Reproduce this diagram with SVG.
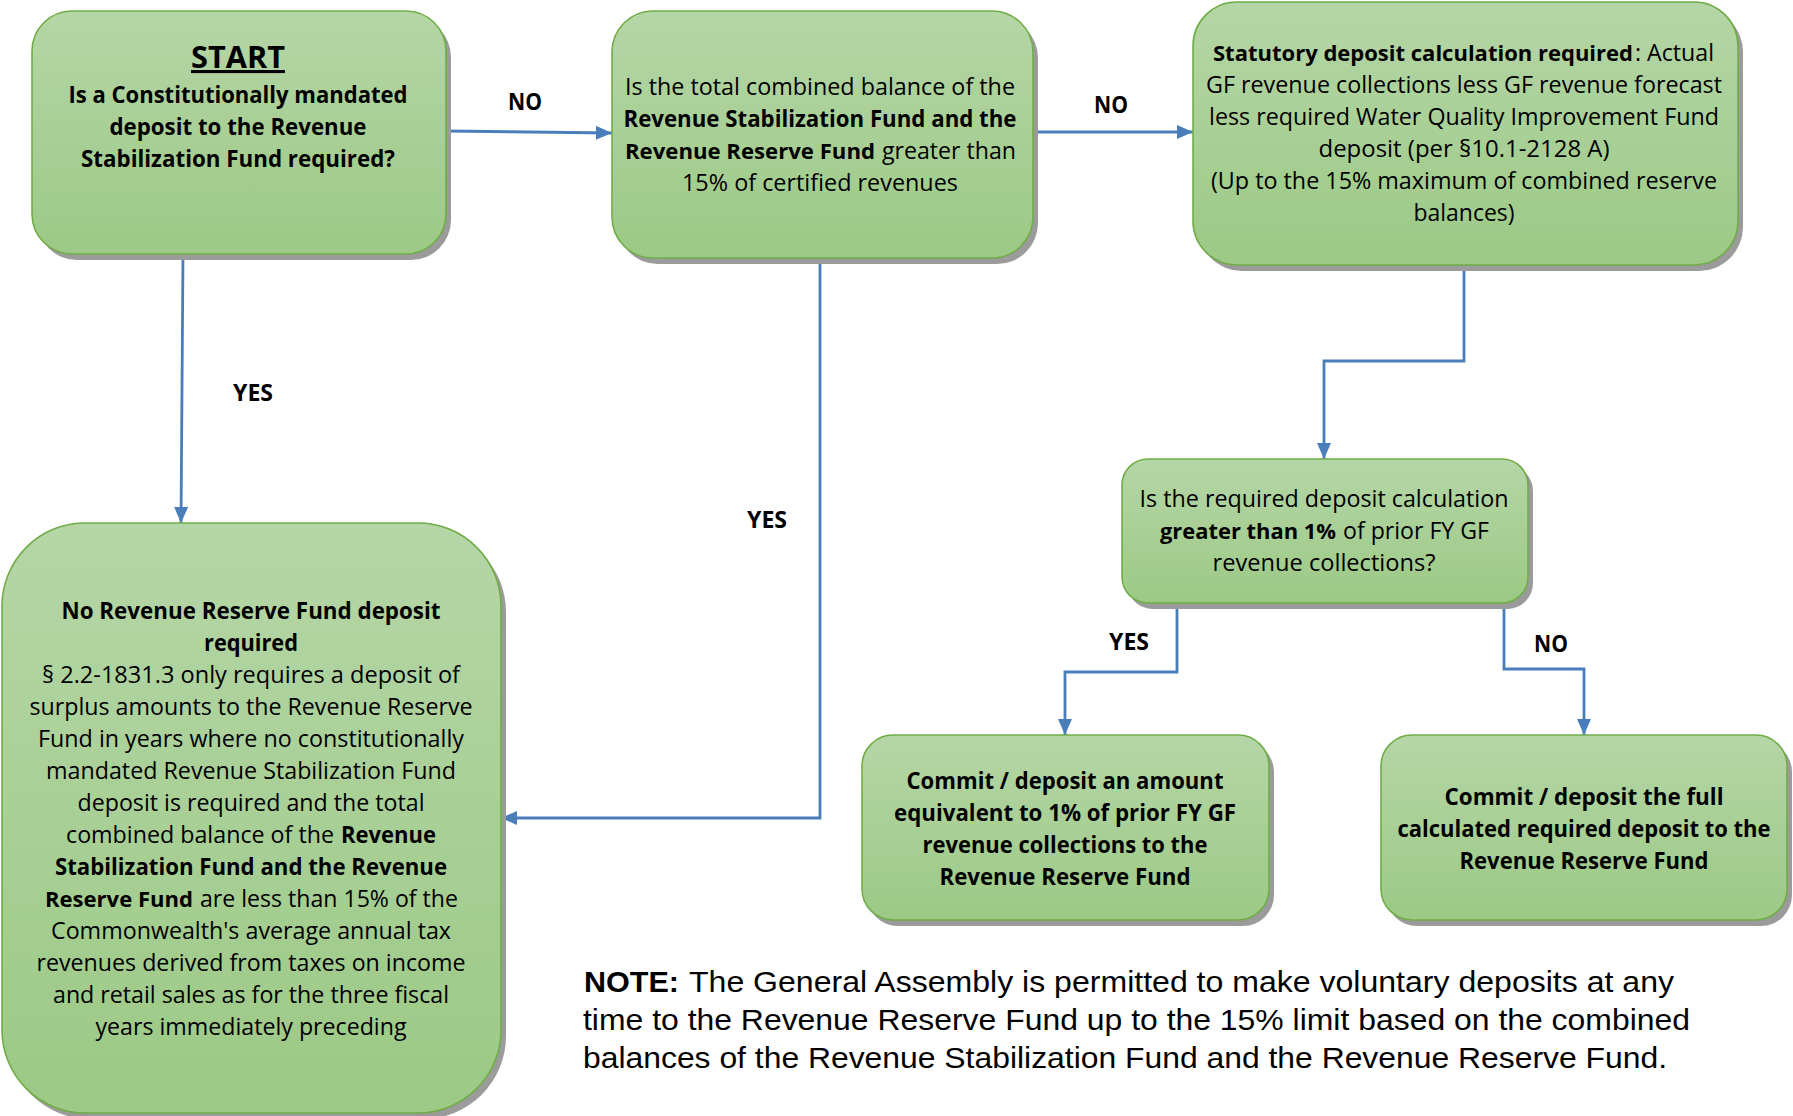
<svg xmlns="http://www.w3.org/2000/svg" width="1793" height="1116" viewBox="0 0 1793 1116">
<style>
.box{fill:url(#g);stroke:#70ad47;stroke-width:1.6}
.sh{fill:#9b9b9b}
.t{font-family:"Open Sans","Noto Sans","Liberation Sans",sans-serif;font-size:23px;fill:#000;text-anchor:middle}
.l{font-family:"Open Sans","Noto Sans","Liberation Sans",sans-serif;font-size:23px;fill:#000;text-anchor:start}
.b{font-weight:bold}
.lbl{font-family:"Open Sans","Noto Sans","Liberation Sans",sans-serif;font-size:24px;font-weight:bold;fill:#000;text-anchor:middle}
.con{fill:none;stroke:#4a7ebb;stroke-width:2.8}
.note{font-family:"Liberation Sans",Arial,sans-serif;font-size:30px;fill:#000}
</style>
<defs>
<linearGradient id="g" x1="0" y1="0" x2="0" y2="1">
<stop offset="0" stop-color="#b5d6a7"/>
<stop offset="1" stop-color="#9cc985"/>
</linearGradient>
<marker id="ah" markerUnits="userSpaceOnUse" markerWidth="16" markerHeight="14" viewBox="0 0 16 14" refX="16" refY="7" orient="auto">
<path d="M0,0 L16,7 L0,14 z" fill="#4a7ebb"/>
</marker>
</defs>
<rect width="1793" height="1116" fill="#fff"/>

<g id="connectors">
<path class="con" d="M446,131 L612,133" marker-end="url(#ah)"/>
<path class="con" d="M1033,132 L1193,132" marker-end="url(#ah)"/>
<path class="con" d="M183,254 L181,523" marker-end="url(#ah)"/>
<path class="con" d="M820,258 L820,818 L501,818" marker-end="url(#ah)"/>
<path class="con" d="M1464,265 L1464,361 L1324,361 L1324,459" marker-end="url(#ah)"/>
<path class="con" d="M1177,603 L1177,672 L1065,672 L1065,735" marker-end="url(#ah)"/>
<path class="con" d="M1504,603 L1504,669 L1584,669 L1584,735" marker-end="url(#ah)"/>
<text class="lbl" x="525" y="110" textLength="34" lengthAdjust="spacingAndGlyphs">NO</text>
<text class="lbl" x="1111" y="113" textLength="34" lengthAdjust="spacingAndGlyphs">NO</text>
<text class="lbl" x="253" y="401" textLength="40" lengthAdjust="spacingAndGlyphs">YES</text>
<text class="lbl" x="767" y="528" textLength="40" lengthAdjust="spacingAndGlyphs">YES</text>
<text class="lbl" x="1129" y="650" textLength="40" lengthAdjust="spacingAndGlyphs">YES</text>
<text class="lbl" x="1551" y="652" textLength="34" lengthAdjust="spacingAndGlyphs">NO</text>
</g>

<g id="start">
<rect class="sh" x="37" y="17" width="414" height="243" rx="40"/>
<rect class="box" x="32" y="11" width="414" height="243" rx="40"/>
<text class="t b" x="238" y="68" style="font-size:31px;text-decoration:underline" textLength="94" lengthAdjust="spacingAndGlyphs">START</text>
<text class="t b" x="238" y="103" textLength="339" lengthAdjust="spacingAndGlyphs">Is a Constitutionally mandated</text>
<text class="t b" x="238" y="135" textLength="257" lengthAdjust="spacingAndGlyphs">deposit to the Revenue</text>
<text class="t b" x="238" y="167" textLength="314" lengthAdjust="spacingAndGlyphs">Stabilization Fund required?</text>
</g>

<g id="combined-balance">
<rect class="sh" x="617" y="17" width="421" height="247" rx="41"/>
<rect class="box" x="612" y="11" width="421" height="247" rx="41"/>
<text class="t" x="820" y="95" textLength="390" lengthAdjust="spacingAndGlyphs">Is the total combined balance of the</text>
<text class="t b" x="820" y="127" textLength="393" lengthAdjust="spacingAndGlyphs">Revenue Stabilization Fund and the</text>
<text class="l b" x="625" y="159" style="font-size:22px" textLength="250" lengthAdjust="spacingAndGlyphs">Revenue Reserve Fund</text>
<text class="l" x="882" y="159" textLength="134" lengthAdjust="spacingAndGlyphs">greater than</text>
<text class="t" x="820" y="191" textLength="276" lengthAdjust="spacingAndGlyphs">15% of certified revenues</text>
</g>

<g id="statutory">
<rect class="sh" x="1198" y="8" width="545" height="263" rx="44"/>
<rect class="box" x="1193" y="2" width="545" height="263" rx="44"/>
<text class="l b" x="1213" y="61" style="font-size:21.5px" textLength="420" lengthAdjust="spacingAndGlyphs">Statutory deposit calculation required</text>
<text class="l" x="1635" y="61" textLength="79" lengthAdjust="spacingAndGlyphs">: Actual</text>
<text class="t" x="1464" y="93" textLength="516" lengthAdjust="spacingAndGlyphs">GF revenue collections less GF revenue forecast</text>
<text class="t" x="1464" y="125" textLength="510" lengthAdjust="spacingAndGlyphs">less required Water Quality Improvement Fund</text>
<text class="t" x="1464" y="157" textLength="291" lengthAdjust="spacingAndGlyphs">deposit (per §10.1-2128 A)</text>
<text class="t" x="1464" y="189" textLength="506" lengthAdjust="spacingAndGlyphs">(Up to the 15% maximum of combined reserve</text>
<text class="t" x="1464" y="221" textLength="101" lengthAdjust="spacingAndGlyphs">balances)</text>
</g>

<g id="one-percent-check">
<rect class="sh" x="1127" y="465" width="406" height="144" rx="26"/>
<rect class="box" x="1122" y="459" width="406" height="144" rx="26"/>
<text class="t" x="1324" y="507" textLength="369" lengthAdjust="spacingAndGlyphs">Is the required deposit calculation</text>
<text class="l b" x="1160" y="539" style="font-size:22px" textLength="176" lengthAdjust="spacingAndGlyphs">greater than 1%</text>
<text class="l" x="1343" y="539" textLength="146" lengthAdjust="spacingAndGlyphs">of prior FY GF</text>
<text class="t" x="1324" y="571" textLength="223" lengthAdjust="spacingAndGlyphs">revenue collections?</text>
</g>

<g id="no-deposit">
<rect class="sh" x="7" y="529" width="499" height="590" rx="83"/>
<rect class="box" x="2" y="523" width="499" height="590" rx="83"/>
<text class="t b" x="251" y="619" textLength="379" lengthAdjust="spacingAndGlyphs">No Revenue Reserve Fund deposit</text>
<text class="t b" x="251" y="651" textLength="94" lengthAdjust="spacingAndGlyphs">required</text>
<text class="t" x="251" y="683" textLength="418" lengthAdjust="spacingAndGlyphs">§ 2.2-1831.3 only requires a deposit of</text>
<text class="t" x="251" y="715" textLength="443" lengthAdjust="spacingAndGlyphs">surplus amounts to the Revenue Reserve</text>
<text class="t" x="251" y="747" textLength="426" lengthAdjust="spacingAndGlyphs">Fund in years where no constitutionally</text>
<text class="t" x="251" y="779" textLength="410" lengthAdjust="spacingAndGlyphs">mandated Revenue Stabilization Fund</text>
<text class="t" x="251" y="811" textLength="347" lengthAdjust="spacingAndGlyphs">deposit is required and the total</text>
<text class="l" x="66" y="843" textLength="268" lengthAdjust="spacingAndGlyphs">combined balance of the</text>
<text class="l b" x="341" y="843" textLength="95" lengthAdjust="spacingAndGlyphs">Revenue</text>
<text class="t b" x="251" y="875" textLength="392" lengthAdjust="spacingAndGlyphs">Stabilization Fund and the Revenue</text>
<text class="l b" x="45" y="907" style="font-size:22px" textLength="148" lengthAdjust="spacingAndGlyphs">Reserve Fund</text>
<text class="l" x="200" y="907" textLength="258" lengthAdjust="spacingAndGlyphs">are less than 15% of the</text>
<text class="t" x="251" y="939" textLength="400" lengthAdjust="spacingAndGlyphs">Commonwealth's average annual tax</text>
<text class="t" x="251" y="971" textLength="429" lengthAdjust="spacingAndGlyphs">revenues derived from taxes on income</text>
<text class="t" x="251" y="1003" textLength="396" lengthAdjust="spacingAndGlyphs">and retail sales as for the three fiscal</text>
<text class="t" x="251" y="1035" textLength="311" lengthAdjust="spacingAndGlyphs">years immediately preceding</text>
</g>

<g id="commit-one-percent">
<rect class="sh" x="867" y="741" width="407" height="185" rx="31"/>
<rect class="box" x="862" y="735" width="407" height="185" rx="31"/>
<text class="t b" x="1065" y="789" textLength="317" lengthAdjust="spacingAndGlyphs">Commit / deposit an amount</text>
<text class="t b" x="1065" y="821" textLength="342" lengthAdjust="spacingAndGlyphs">equivalent to 1% of prior FY GF</text>
<text class="t b" x="1065" y="853" textLength="285" lengthAdjust="spacingAndGlyphs">revenue collections to the</text>
<text class="t b" x="1065" y="885" textLength="251" lengthAdjust="spacingAndGlyphs">Revenue Reserve Fund</text>
</g>

<g id="commit-full">
<rect class="sh" x="1386" y="741" width="406" height="185" rx="31"/>
<rect class="box" x="1381" y="735" width="406" height="185" rx="31"/>
<text class="t b" x="1584" y="805" textLength="279" lengthAdjust="spacingAndGlyphs">Commit / deposit the full</text>
<text class="t b" x="1584" y="837" textLength="373" lengthAdjust="spacingAndGlyphs">calculated required deposit to the</text>
<text class="t b" x="1584" y="869" textLength="249" lengthAdjust="spacingAndGlyphs">Revenue Reserve Fund</text>
</g>

<g id="note">
<text class="note" x="584" y="992" font-weight="bold" textLength="95" lengthAdjust="spacingAndGlyphs">NOTE:</text>
<text class="note" x="689" y="992" textLength="985" lengthAdjust="spacingAndGlyphs">The General Assembly is permitted to make voluntary deposits at any</text>
<text class="note" x="583" y="1030" textLength="1107" lengthAdjust="spacingAndGlyphs">time to the Revenue Reserve Fund up to the 15% limit based on the combined</text>
<text class="note" x="583" y="1068" textLength="1084" lengthAdjust="spacingAndGlyphs">balances of the Revenue Stabilization Fund and the Revenue Reserve Fund.</text>
</g>
</svg>
